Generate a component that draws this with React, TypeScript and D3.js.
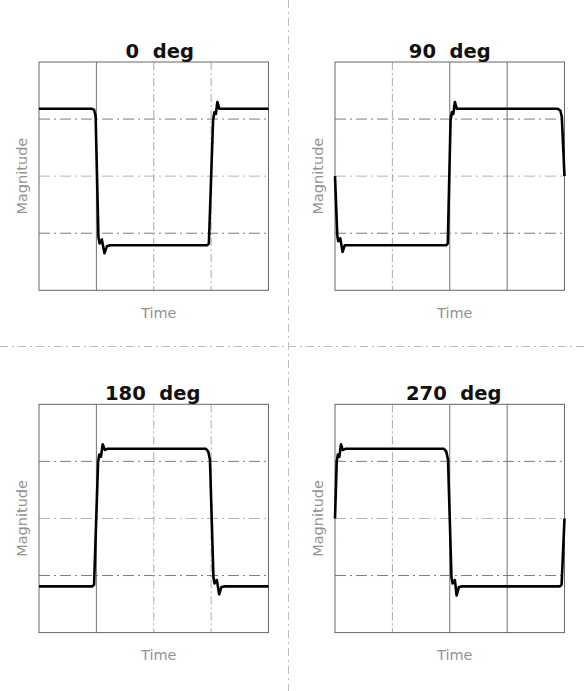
import * as d3 from 'd3';

// panel titles and grid positions (data units)
const titles = ['0  deg', '90  deg', '180  deg', '270  deg'];
const timeGrid = [1, 2, 3];
const magGrid = [1, 0, -1];

// waveforms: [time, magnitude]
const wave0: [number, number][] = [
  [0, 1.18], [0.926, 1.18], [0.961, 1.16], [0.987, 1.05], [1.036, -1.07],
  [1.057, -1.18], [1.095, -1.11], [1.141, -1.35], [1.183, -1.23], [1.24, -1.21],
  [2.934, -1.21], [2.961, -1.18], [3.034, 0.98], [3.057, 1.12], [3.083, 1.09],
  [3.109, 1.3], [3.144, 1.18], [3.179, 1.18], [4, 1.18],
];
const wave90: [number, number][] = [
  [0, 0], [0.04, -1.04], [0.057, -1.14], [0.092, -1.09], [0.132, -1.33],
  [0.17, -1.21], [0.23, -1.21], [1.94, -1.21], [1.966, -1.18], [2.014, 0.98],
  [2.037, 1.12], [2.063, 1.09], [2.089, 1.3], [2.123, 1.18], [2.16, 1.18],
  [3.883, 1.18], [3.927, 1.15], [3.953, 1.04], [4, 0],
];
const wave180: [number, number][] = [
  [0, -1.19], [0.93, -1.19], [0.96, -1.16], [1.03, 0.99], [1.05, 1.12],
  [1.08, 1.08], [1.11, 1.3], [1.15, 1.2], [1.19, 1.22], [2.91, 1.22],
  [2.95, 1.17], [2.98, 1.03], [3.04, -1.03], [3.06, -1.14], [3.1, -1.08],
  [3.14, -1.33], [3.18, -1.2], [3.24, -1.19], [4, -1.19],
];
const wave270: [number, number][] = [
  [0, 0], [0.03, 1.0], [0.05, 1.12], [0.075, 1.08], [0.105, 1.3],
  [0.135, 1.2], [0.18, 1.22], [1.9, 1.22], [1.94, 1.17], [1.97, 1.03],
  [2.03, -1.03], [2.05, -1.14], [2.09, -1.08], [2.12, -1.35], [2.16, -1.2],
  [2.22, -1.19], [3.92, -1.19], [3.95, -1.16], [4, 0],
];
const waves = [wave0, wave90, wave180, wave270];

const W = 584;
const H = 691;
const boxW = 229.5;
const boxH = 228.3;

// where each panel sits, and which vertical grid lines are drawn solid
const layout = [
  { left: 39, top: 62, solid: [1], dx: 6 },
  { left: 335, top: 62, solid: [2, 3], dx: 0 },
  { left: 39, top: 404.3, solid: [1], dx: -1 },
  { left: 335, top: 404.3, solid: [2, 3], dx: 4 },
];

function Panel({ idx }: { idx: number }) {
  const { left, top, solid, dx } = layout[idx];
  const x = d3.scaleLinear().domain([0, 4]).range([0, boxW]);
  const y = d3.scaleLinear().domain([-2, 2]).range([boxH, 0]);
  const line = d3.line<[number, number]>()
    .x(d => x(d[0]))
    .y(d => y(d[1]));

  return (
    <g transform={`translate(${left},${top})`}>
      {magGrid.map(m => (
        <line key={'h' + m} x1={0} x2={boxW} y1={y(m)} y2={y(m)}
          stroke={m === 0 ? '#b4b4b4' : '#7c7c7c'} strokeWidth={1}
          strokeDasharray="11,4,2,4" />
      ))}
      {timeGrid.map(t => (
        solid.includes(t)
          ? <line key={'v' + t} x1={x(t)} x2={x(t)} y1={0} y2={boxH} stroke="#707070" strokeWidth={1} />
          : <line key={'v' + t} x1={x(t)} x2={x(t)} y1={0} y2={boxH} stroke="#a8a8a8" strokeWidth={1}
              strokeDasharray="8,3,2,3" />
      ))}
      <rect x={0} y={0} width={boxW} height={boxH} fill="none" stroke="#666" strokeWidth={1} />
      <path d={line(waves[idx]) ?? ''} fill="none" stroke="#000" strokeWidth={2.6}
        strokeLinejoin="round" strokeLinecap="butt" />
      <text x={boxW / 2 + dx} y={-4.5} textAnchor="middle" fontFamily="DejaVu Sans"
        fontWeight="bold" fontSize={19.5} fill="#111" style={{ whiteSpace: 'pre' }}>
        {titles[idx]}
      </text>
      <text transform={`translate(-17.5,${boxH / 2}) rotate(-90)`} textAnchor="middle"
        dominantBaseline="central" fontFamily="DejaVu Sans" fontSize={14.5} fill="#939393">
        Magnitude
      </text>
      <text x={boxW / 2 + 5} y={boxH + 27.5} textAnchor="middle" fontFamily="DejaVu Sans"
        fontSize={14.5} fill="#939393">
        Time
      </text>
    </g>
  );
}

export default function App() {
  return (
    <div style={{ position: 'absolute', left: 0, top: 0 }}>
      <svg width={W} height={H} style={{ display: 'block', background: '#fff' }}>
        <line x1={288.5} x2={288.5} y1={0} y2={H} stroke="#bdbdbd" strokeWidth={1}
          strokeDasharray="8,4,2,4" />
        <line x1={0} x2={W} y1={346.5} y2={346.5} stroke="#bdbdbd" strokeWidth={1}
          strokeDasharray="8,4,2,4" />
        {layout.map((_, i) => <Panel key={i} idx={i} />)}
      </svg>
    </div>
  );
}
